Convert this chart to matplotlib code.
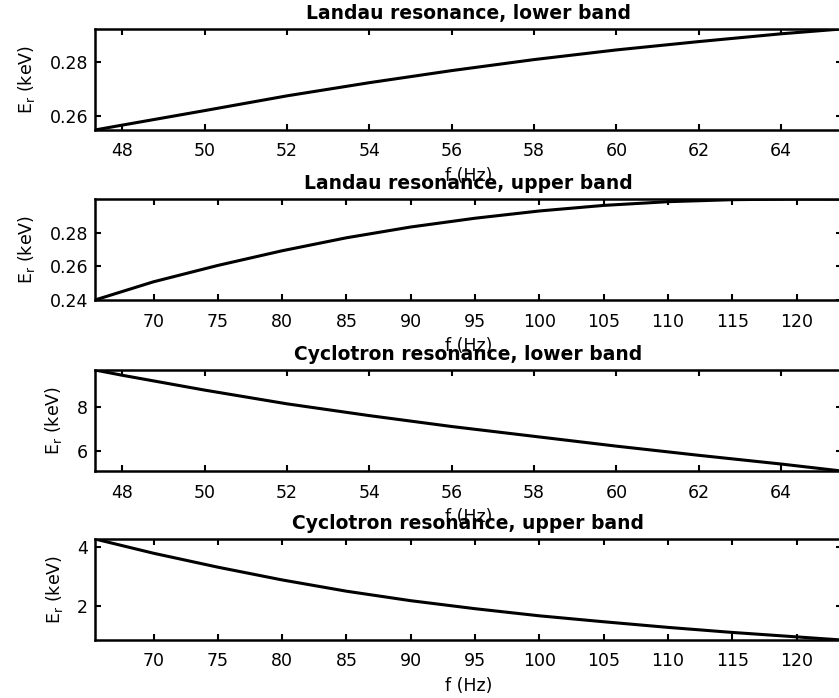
import matplotlib
matplotlib.use("Agg")
import matplotlib.pyplot as plt

# Frequencies (Hz) and resonant energies (keV)
f_lower = [47.34, 48, 50, 52, 54, 56, 58, 60, 62, 64, 65.47]
f_upper = [65.45, 70, 75, 80, 85, 90, 95, 100, 105, 110, 115, 120, 123.5]

landau_lower = [0.2547, 0.2565, 0.2619, 0.2674, 0.2723, 0.2768, 0.2809,
                0.2845, 0.2876, 0.2905, 0.2923]
landau_upper = [0.2400, 0.2508, 0.2605, 0.2692, 0.2769, 0.2833, 0.2885,
                0.2928, 0.2961, 0.2983, 0.2995, 0.2999, 0.2998]
cyclo_lower = [9.71, 9.47, 8.79, 8.16, 7.62, 7.12, 6.67, 6.22, 5.80, 5.40, 5.08]
cyclo_upper = [4.26, 3.78, 3.31, 2.88, 2.50, 2.18, 1.91, 1.67, 1.47, 1.28,
               1.11, 0.96, 0.855]

titles = [
    "Landau resonance, lower band",
    "Landau resonance, upper band",
    "Cyclotron resonance, lower band",
    "Cyclotron resonance, upper band",
]
panels = [
    (f_lower, landau_lower, [48, 50, 52, 54, 56, 58, 60, 62, 64], [0.26, 0.28], "{:.2f}"),
    (f_upper, landau_upper, [70, 75, 80, 85, 90, 95, 100, 105, 110, 115, 120], [0.24, 0.26, 0.28], "{:.2f}"),
    (f_lower, cyclo_lower, [48, 50, 52, 54, 56, 58, 60, 62, 64], [6, 8], "{:g}"),
    (f_upper, cyclo_upper, [70, 75, 80, 85, 90, 95, 100, 105, 110, 115, 120], [2, 4], "{:g}"),
]

plt.rcParams.update({
    "font.family": ["DejaVu Sans"],
    "font.size": 12.5,
    "axes.linewidth": 1.8,
    "xtick.direction": "in",
    "ytick.direction": "in",
    "xtick.major.size": 4.5,
    "ytick.major.size": 4.5,
    "xtick.major.width": 1.5,
    "ytick.major.width": 1.5,
    "xtick.top": True,
    "ytick.right": True,
    "xtick.major.pad": 9,
    "ytick.major.pad": 5,
})

fig = plt.figure(figsize=(8.39, 6.98), dpi=100)
left, width, height = 0.1132, 0.89, 0.1447
bottoms = [0.8138, 0.5702, 0.3252, 0.0831]

for i, (x, y, xt, yt, fmt) in enumerate(panels):
    ax = fig.add_axes([left, bottoms[i], width, height])
    ax.plot(x, y, color="black", linewidth=2.2, solid_joinstyle="round")
    ax.set_xlim(x[0], x[-1])
    ax.set_ylim(min(y), max(y))
    ax.set_xticks(xt)
    ax.set_yticks(yt)
    ax.set_yticklabels([fmt.format(v) for v in yt])
    ax.set_title(titles[i], fontweight="bold", fontsize=13.5, pad=7)
    ax.set_xlabel("f (Hz)", labelpad=5)
    ax.set_ylabel(r"E$_\mathregular{r}$ (keV)", labelpad=9)

fig.savefig("out.png", dpi=100, facecolor="white")
